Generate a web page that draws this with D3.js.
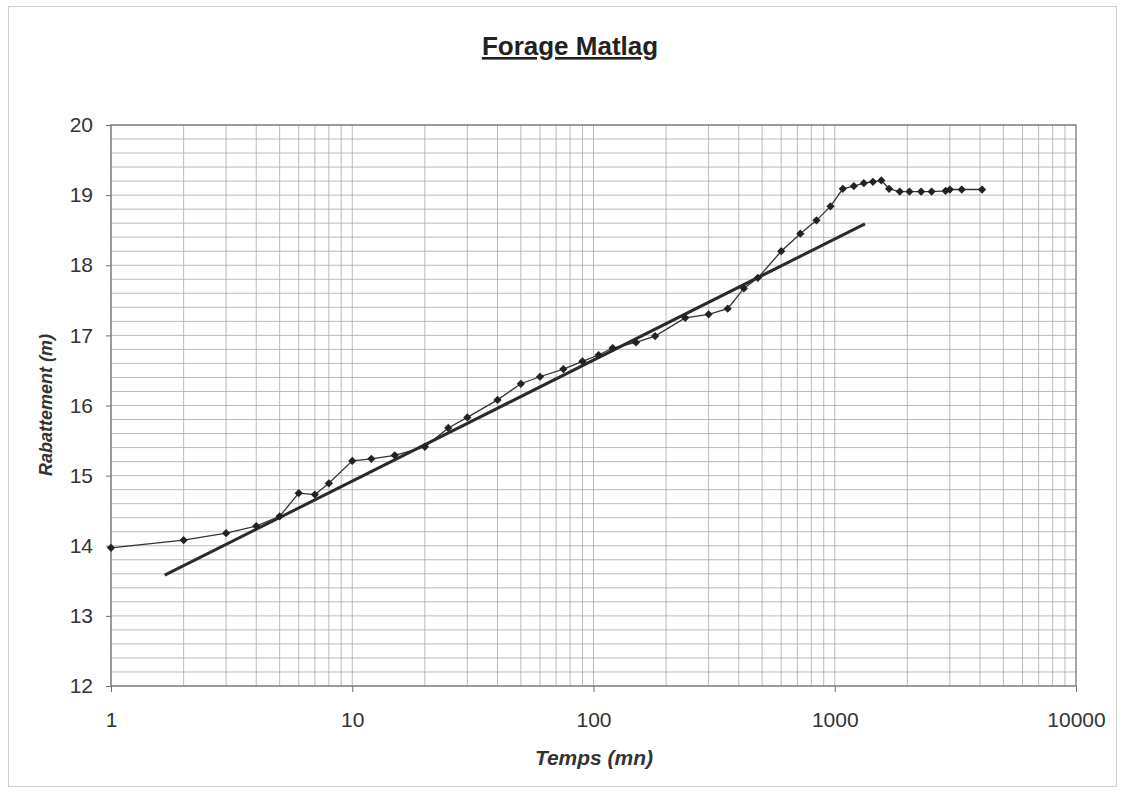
<!DOCTYPE html>
<html><head><meta charset="utf-8">
<script src="https://cdn.jsdelivr.net/npm/d3@7"></script>
<style>body{margin:0;background:#fff}svg{display:block}</style>
</head><body>
<svg id="chart" width="1124" height="794"></svg>
<script>
const title = "Forage Matlag";
const xLabel = "Temps (mn)";
const yLabel = "Rabattement (m)";
const timeValues = [1,2,3,4,5,6,7,8,10,12,15,20,25,30,40,50,60,75,90,105,120,150,180,240,300,360,420,480,600,720,840,960,1080,1200,1320,1440,1560,1680,1860,2040,2280,2520,2880,3000,3360,4080];
const drawdownValues = [13.97,14.08,14.18,14.28,14.42,14.75,14.73,14.89,15.21,15.24,15.29,15.41,15.68,15.83,16.08,16.31,16.41,16.52,16.63,16.72,16.82,16.90,16.99,17.25,17.30,17.38,17.67,17.82,18.20,18.45,18.64,18.84,19.09,19.13,19.17,19.19,19.21,19.09,19.05,19.05,19.05,19.05,19.06,19.08,19.08,19.08];
const trendTime = [1.67, 1334];
const trendValues = [13.58, 18.59];
const xTicks = [1,10,100,1000,10000];
const yTicks = [12,13,14,15,16,17,18,19,20];

const svg = d3.select("#chart");
const m = {left:111, right:1076, top:125, bottom:686};
const x = d3.scaleLog().domain([1,10000]).range([m.left,m.right]);
const y = d3.scaleLinear().domain([12,20]).range([m.bottom,m.top]);
const FONT = "Liberation Sans, Arial, sans-serif";

// outer frame
svg.append("rect").attr("x",8.5).attr("y",6.5).attr("width",1108).attr("height",780)
  .attr("fill","none").attr("stroke","#cfcfcf").attr("stroke-width",1);

// grid
const g = svg.append("g");
const minorY = d3.range(12,20.001,0.2);
g.selectAll("line.hy").data(minorY).join("line")
  .attr("x1",m.left).attr("x2",m.right).attr("y1",d=>y(d)).attr("y2",d=>y(d))
  .attr("stroke","#a4acac").attr("stroke-width",0.8);
const minorX = [];
for (let e=0;e<4;e++) for (let k=1;k<=9;k++) minorX.push(k*Math.pow(10,e));
g.selectAll("line.vx").data(minorX).join("line")
  .attr("y1",m.top).attr("y2",m.bottom).attr("x1",d=>x(d)).attr("x2",d=>x(d))
  .attr("stroke","#a4acac").attr("stroke-width",0.8);

// plot border
svg.append("rect").attr("x",m.left).attr("y",m.top).attr("width",m.right-m.left).attr("height",m.bottom-m.top)
  .attr("fill","none").attr("stroke","#707070").attr("stroke-width",1.2);

// axes
const xAxis = d3.axisBottom(x).tickValues(xTicks).tickFormat(d3.format("d")).tickSize(6).tickPadding(20);
const ax = svg.append("g").attr("transform",`translate(0,${m.bottom})`).call(xAxis);
const yAxis = d3.axisLeft(y).tickValues(yTicks).tickFormat(d3.format("d")).tickSize(5).tickPadding(13);
const ay = svg.append("g").attr("transform",`translate(${m.left},0)`).call(yAxis);
[ax,ay].forEach(a=>{
  a.select(".domain").remove();
  a.selectAll(".tick line").attr("stroke","#707070");
  a.selectAll("text").attr("font-family",FONT).attr("font-size",21).attr("fill","#333");
});

// data line
const line = d3.line().x((d,i)=>x(timeValues[i])).y(d=>y(d));
svg.append("path").datum(drawdownValues).attr("d",line)
  .attr("fill","none").attr("stroke","#333").attr("stroke-width",1.3);

// trend line
const tline = d3.line().x((d,i)=>x(trendTime[i])).y(d=>y(d));
svg.append("path").datum(trendValues).attr("d",tline)
  .attr("fill","none").attr("stroke","#2a2a2a").attr("stroke-width",3);

// markers
svg.selectAll("path.mk").data(drawdownValues).join("path")
  .attr("d",d3.symbol().type(d3.symbolSquare).size(34))
  .attr("transform",(d,i)=>`translate(${x(timeValues[i])},${y(d)}) rotate(45)`)
  .attr("fill","#222");

// title
svg.append("text").attr("x",570).attr("y",55).attr("text-anchor","middle")
  .attr("font-family",FONT).attr("font-size",26).attr("font-weight","bold")
  .attr("fill","#222").attr("text-decoration","underline").text(title);

svg.append("text").attr("x",594).attr("y",765).attr("text-anchor","middle")
  .attr("font-family",FONT).attr("font-size",21).attr("font-weight","bold")
  .attr("font-style","italic").attr("fill","#333").text(xLabel);

svg.append("text").attr("transform","translate(52,405) rotate(-90)").attr("text-anchor","middle")
  .attr("font-family",FONT).attr("font-size",18).attr("font-weight","bold")
  .attr("font-style","italic").attr("fill","#333").text(yLabel);
</script>
</body></html>
